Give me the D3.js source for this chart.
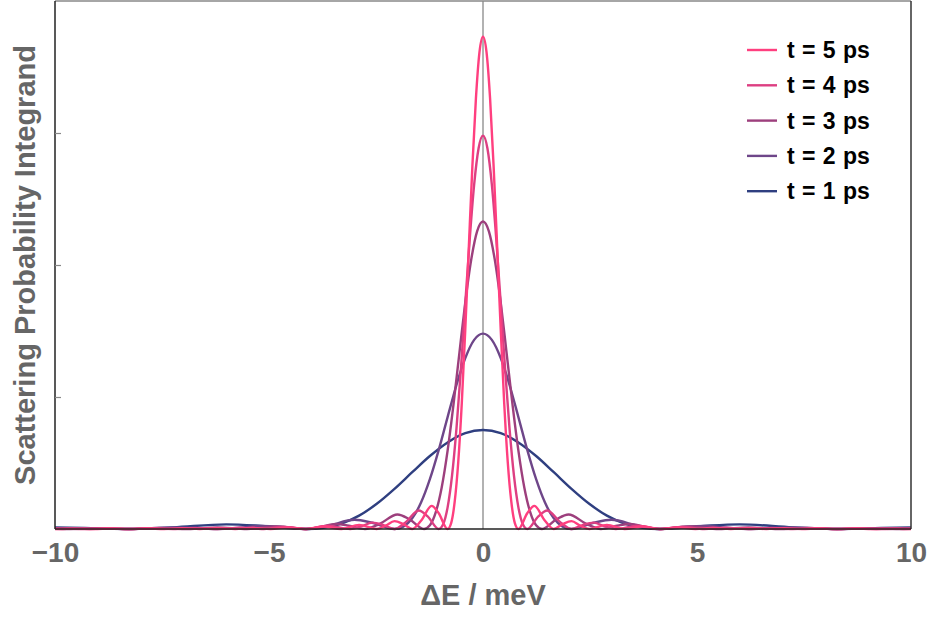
<!DOCTYPE html>
<html>
<head>
<meta charset="utf-8">
<script src="https://cdn.jsdelivr.net/npm/d3@7"></script>
<style>
  body { margin: 0; background: #fff; }
  svg text { font-family: "Liberation Sans", Arial, sans-serif; font-weight: bold; }
</style>
</head>
<body>
<figure id="chart" style="margin:0"></figure>
<script>
// half profiles (E >= 0), curves are symmetric about E = 0
const t1E = [0, 0.414, 0.827, 1.241, 1.654, 2.068, 2.482, 2.895, 3.309, 3.722, 4.136, 5.17, 5.997, 7.238, 8.272, 9.306, 10];
const t1Y = [0.75, 0.726, 0.656, 0.553, 0.430, 0.304, 0.191, 0.101, 0.041, 0.009, 0, 0.024, 0.035, 0.0124, 0, 0.0075, 0.0122];

const t2E = [0, 0.207, 0.414, 0.620, 0.827, 1.034, 1.241, 1.448, 1.654, 1.861, 2.068, 2.585, 2.999, 3.619, 4.136, 4.653, 5.170, 5.687, 6.204, 7.238, 8.272, 9.306, 10];
const t2Y = [1.48, 1.433, 1.295, 1.091, 0.848, 0.599, 0.377, 0.200, 0.081, 0.018, 0, 0.047, 0.070, 0.025, 0, 0.015, 0.024, 0.010, 0, 0.012, 0, 0.007, 0.0016];

const t3E = [0, 0.138, 0.276, 0.414, 0.551, 0.689, 0.827, 0.965, 1.103, 1.241, 1.379, 1.723, 1.999, 2.413, 2.757, 3.102, 3.447, 3.791, 4.136, 4.825, 5.515, 6.204, 6.893, 7.583, 8.272, 8.961, 9.651, 10];
const t3Y = [2.33, 2.255, 2.039, 1.717, 1.335, 0.944, 0.594, 0.315, 0.128, 0.028, 0, 0.075, 0.110, 0.039, 0, 0.023, 0.038, 0.016, 0, 0.019, 0, 0.012, 0, 0.008, 0, 0.0056, 0, 0.002];

const t4E = [0, 0.103, 0.207, 0.310, 0.414, 0.517, 0.620, 0.724, 0.827, 0.931, 1.034, 1.293, 1.499, 1.810, 2.068, 2.327, 2.585, 2.844, 3.102, 3.619, 4.136, 4.653, 5.170, 5.687, 6.204, 6.721, 7.238, 7.755, 8.272, 8.789, 9.306, 9.823, 10];
const t4Y = [2.98, 2.885, 2.608, 2.196, 1.708, 1.207, 0.760, 0.402, 0.164, 0.036, 0, 0.095, 0.140, 0.050, 0, 0.030, 0.048, 0.020, 0, 0.025, 0, 0.015, 0, 0.010, 0, 0.0072, 0, 0.0054, 0, 0.0042, 0, 0.003, 0.002];

const t5E = [0, 0.083, 0.165, 0.248, 0.331, 0.414, 0.496, 0.579, 0.662, 0.744, 0.827, 1.034, 1.199, 1.448, 1.654, 1.861, 2.068, 2.275, 2.482, 2.895, 3.309, 3.722, 4.136, 4.550, 4.963, 5.377, 5.790, 6.204, 6.618, 7.031, 7.445, 7.858, 8.272, 8.686, 9.099, 9.513, 9.926, 10];
const t5Y = [3.73, 3.611, 3.264, 2.749, 2.137, 1.511, 0.951, 0.504, 0.205, 0.045, 0, 0.119, 0.175, 0.062, 0, 0.037, 0.060, 0.025, 0, 0.031, 0, 0.019, 0, 0.0125, 0, 0.009, 0, 0.0067, 0, 0.0052, 0, 0.0042, 0, 0.0034, 0, 0.0029, 0, 0.0005];

const seriesNames = ["t = 1 ps", "t = 2 ps", "t = 3 ps", "t = 4 ps", "t = 5 ps"];
const seriesColors = ["#2f3f80", "#6e4689", "#9d3f7d", "#dd3f82", "#ff3f7f"];
const xTicks = [-10, -5, 0, 5, 10];
const yTicks = [1, 2, 3];

const halves = [[t1E, t1Y], [t2E, t2Y], [t3E, t3Y], [t4E, t4Y], [t5E, t5Y]];

const width = 935, height = 617;
const pLeft = 55, pRight = 911, pTop = 1, pBottom = 529;

const svg = d3.select("figure#chart")
  .append("svg")
  .attr("width", width)
  .attr("height", height);

const x = d3.scaleLinear().domain([-10, 10]).range([pLeft, pRight]);
const y = d3.scaleLinear().domain([0, 4]).range([pBottom, pTop]);

svg.append("clipPath").attr("id", "plot")
  .append("rect")
  .attr("x", pLeft).attr("y", pTop - 2)
  .attr("width", pRight - pLeft).attr("height", pBottom - pTop + 4);

// zero line
svg.append("line")
  .attr("x1", x(0)).attr("x2", x(0))
  .attr("y1", pTop).attr("y2", pBottom)
  .attr("stroke", "#999").attr("stroke-width", 1.5);

// build symmetric series from half profiles
function mirror(E, Y) {
  const pts = [];
  for (let i = E.length - 1; i > 0; i--) pts.push([-E[i], Y[i]]);
  for (let i = 0; i < E.length; i++) pts.push([E[i], Y[i]]);
  return pts;
}

const line = d3.line()
  .x(d => x(d[0]))
  .y(d => y(d[1]))
  .curve(d3.curveMonotoneX);

svg.append("g").attr("clip-path", "url(#plot)")
  .selectAll("path")
  .data(halves)
  .enter()
  .append("path")
  .attr("d", d => line(mirror(d[0], d[1])))
  .attr("fill", "none")
  .attr("stroke", (d, i) => seriesColors[i])
  .attr("stroke-width", 2.4)
  .attr("stroke-linejoin", "round");

// frame
svg.append("line").attr("x1", pLeft).attr("x2", pRight).attr("y1", pTop).attr("y2", pTop)
  .attr("stroke", "#888").attr("stroke-width", 1.5);
svg.append("line").attr("x1", pRight).attr("x2", pRight).attr("y1", pTop).attr("y2", pBottom)
  .attr("stroke", "#333").attr("stroke-width", 1.5);
svg.append("line").attr("x1", pLeft).attr("x2", pLeft).attr("y1", pTop).attr("y2", pBottom)
  .attr("stroke", "#222").attr("stroke-width", 1.5);
svg.append("line").attr("x1", pLeft).attr("x2", pRight).attr("y1", pBottom).attr("y2", pBottom)
  .attr("stroke", "#222").attr("stroke-width", 1.5);

// y ticks, no labels
svg.append("g")
  .attr("transform", "translate(" + pLeft + ",0)")
  .call(d3.axisRight(y).tickValues(yTicks).tickSize(6).tickFormat(""))
  .call(g => g.select(".domain").remove())
  .call(g => g.selectAll("line").attr("stroke", "#888").attr("stroke-width", 1.2));

// x tick labels
svg.append("g")
  .attr("transform", "translate(0," + pBottom + ")")
  .call(d3.axisBottom(x).tickValues(xTicks).tickSize(0).tickPadding(0)
    .tickFormat(d => d < 0 ? "\u2212" + Math.abs(d) : d))
  .call(g => g.select(".domain").remove())
  .call(g => g.selectAll("text")
    .attr("dy", null).attr("y", 33)
    .attr("fill", "#666")
    .style("font-size", "28px")
    .style("font-family", "'Liberation Sans', Arial, sans-serif")
    .style("font-weight", "bold"));

// axis labels
svg.append("text")
  .attr("x", x(0)).attr("y", 605)
  .attr("text-anchor", "middle")
  .attr("fill", "#666")
  .style("font-size", "29px")
  .text("\u0394E / meV");

svg.append("text")
  .attr("transform", "translate(35," + ((pTop + pBottom) / 2) + ") rotate(-90)")
  .attr("text-anchor", "middle")
  .attr("fill", "#666")
  .style("font-size", "29px")
  .text("Scattering Probability Integrand");

// legend (t = 5 at top)
const legend = svg.append("g");
const order = [4, 3, 2, 1, 0];
order.forEach((k, r) => {
  const ly = 50 + r * 35.3;
  legend.append("line")
    .attr("x1", 747).attr("x2", 777).attr("y1", ly).attr("y2", ly)
    .attr("stroke", seriesColors[k]).attr("stroke-width", 2.4);
  legend.append("text")
    .attr("x", 787).attr("y", ly + 8)
    .attr("fill", "#000")
    .style("font-size", "23px")
    .style("word-spacing", "1px")
    .text(seriesNames[k]);
});
</script>
</body>
</html>
